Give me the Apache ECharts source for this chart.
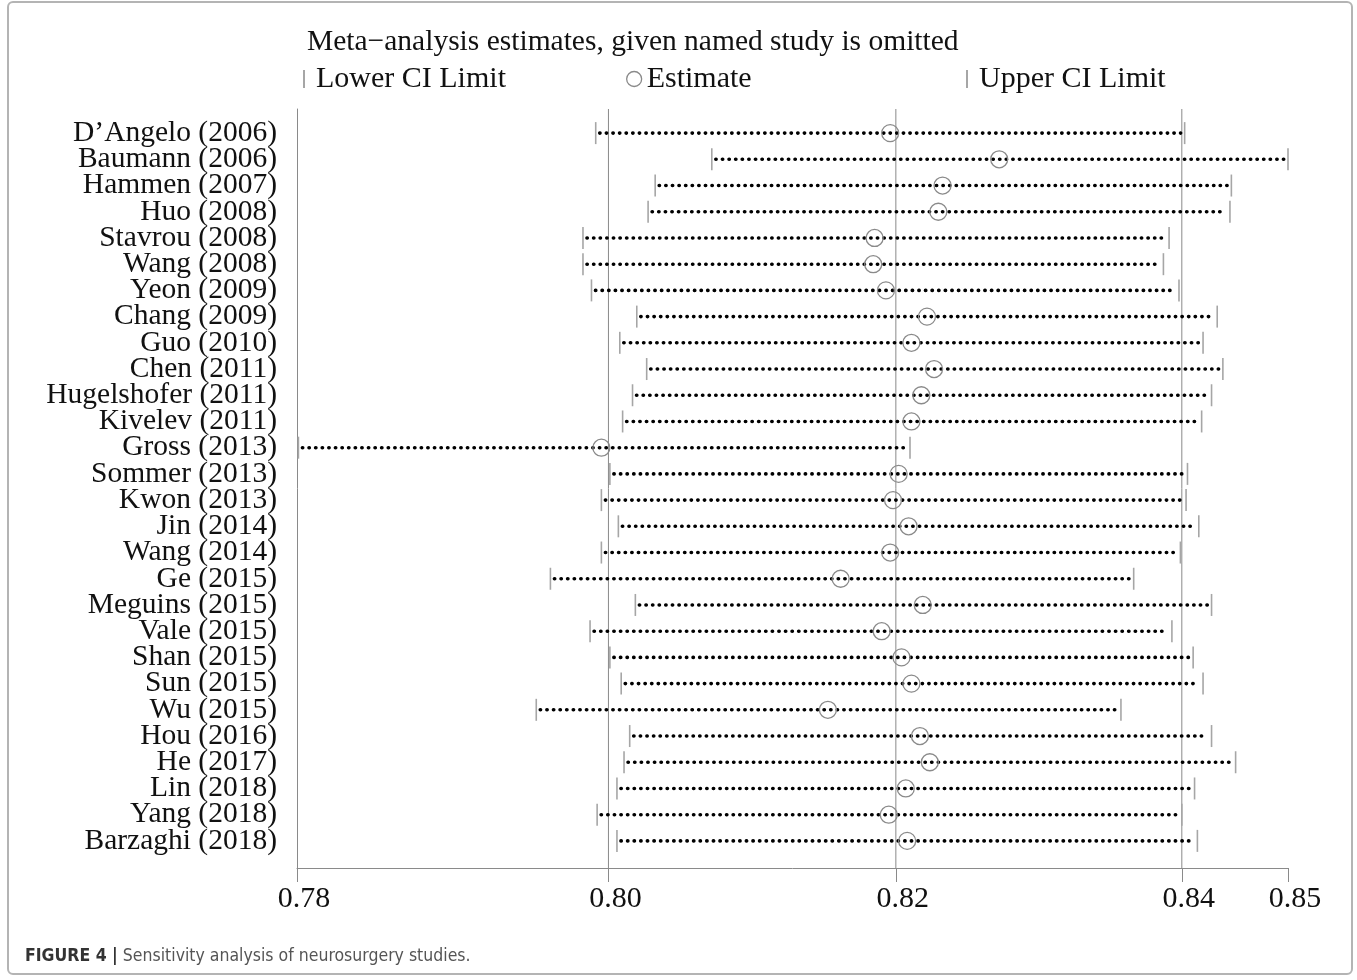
<!DOCTYPE html>
<html>
<head>
<meta charset="utf-8">
<script src="https://cdn.jsdelivr.net/npm/echarts@6/dist/echarts.min.js"></script>
<style>
  html, body { margin: 0; padding: 0; background: #fff; }
  #chart { position: absolute; left: 0; top: 0; width: 1357px; height: 980px; }
  .frame { position: absolute; left: 7px; top: 1px; width: 1342px; height: 970px;
           border: 2px solid #b4b4b4; border-radius: 6px; pointer-events: none; }
</style>
</head>
<body>
<div id="chart"></div>
<div class="frame"></div>
<script>
// studies (each row = pooled estimate with that study omitted)
const studies = [
  'D’Angelo (2006)', 'Baumann (2006)', 'Hammen (2007)', 'Huo (2008)', 'Stavrou (2008)',
  'Wang (2008)', 'Yeon (2009)', 'Chang (2009)', 'Guo (2010)', 'Chen (2011)',
  'Hugelshofer (2011)', 'Kivelev (2011)', 'Gross (2013)', 'Sommer (2013)', 'Kwon (2013)',
  'Jin (2014)', 'Wang (2014)', 'Ge (2015)', 'Meguins (2015)', 'Vale (2015)',
  'Shan (2015)', 'Sun (2015)', 'Wu (2015)', 'Hou (2016)', 'He (2017)',
  'Lin (2018)', 'Yang (2018)', 'Barzaghi (2018)'
]
const lowerCI = [
  0.8011, 0.8093, 0.8053, 0.8048, 0.8002, 0.8002, 0.8008, 0.8040, 0.8028, 0.8047,
  0.8037, 0.8030, 0.7801, 0.8021, 0.8015, 0.8027, 0.8015, 0.7979, 0.8039, 0.8007,
  0.8021, 0.8029, 0.7969, 0.8035, 0.8031, 0.8026, 0.8012, 0.8026
]
const estimate = [
  0.8219, 0.8296, 0.8256, 0.8253, 0.8208, 0.8207, 0.8216, 0.8245, 0.8234, 0.8250,
  0.8241, 0.8234, 0.8015, 0.8225, 0.8221, 0.8232, 0.8219, 0.8184, 0.8242, 0.8213,
  0.8227, 0.8234, 0.8175, 0.8240, 0.8247, 0.8230, 0.8218, 0.8231
]
const upperCI = [
  0.8427, 0.8500, 0.8460, 0.8459, 0.8416, 0.8412, 0.8423, 0.8450, 0.8440, 0.8454,
  0.8446, 0.8439, 0.8233, 0.8429, 0.8428, 0.8437, 0.8424, 0.8391, 0.8446, 0.8418,
  0.8433, 0.8440, 0.8382, 0.8446, 0.8463, 0.8434, 0.8425, 0.8436
]
// overall pooled result: lower CI, estimate, upper CI
const pooled = [0.8020, 0.8223, 0.8425]
// x axis: min, pooled values, max
const tickValues = [0.78, 0.8020, 0.8223, 0.8425, 0.85]
const tickLabels = ['0.78', '0.80', '0.82', '0.84', '0.85']

const serif = 'Liberation Serif'
const sansNarrow = 'Liberation Sans Narrow, DejaVu Sans Condensed, sans-serif'
const lineGray = '#8a8a8a'
const barGray = '#a6a6a6'

const chart = echarts.init(document.getElementById('chart'))

const legendBase = {
  orient: 'horizontal',
  top: 59,
  selectedMode: false,
  textStyle: { fontFamily: serif, fontSize: 30, color: '#111', padding: [0, 0, 0, 6] }
}

const option = {
  backgroundColor: '#fff',
  animation: false,
  title: [
    {
      text: 'Meta\u2212analysis estimates, given named study is omitted',
      left: 302,
      top: 22,
      textStyle: { fontFamily: serif, fontSize: 29.5, fontWeight: 'normal', color: '#111' }
    },
    {
      text: '{b|FIGURE 4 |} {n|Sensitivity analysis of neurosurgery studies.}',
      left: 20,
      top: 942,
      textStyle: {
        rich: {
          b: { fontFamily: sansNarrow, fontWeight: 'bold', fontSize: 17.5, color: '#333' },
          n: { fontFamily: sansNarrow, fontWeight: 'normal', fontSize: 17.5, color: '#555' }
        }
      }
    }
  ],
  legend: [
    Object.assign({}, legendBase, {
      left: 298, data: ['Lower CI Limit'], icon: 'rect', itemWidth: 2, itemHeight: 18,
      itemStyle: { color: barGray }
    }),
    Object.assign({}, legendBase, {
      left: 621, data: ['Estimate'], icon: 'circle', itemWidth: 15, itemHeight: 15,
      itemStyle: { color: 'rgba(0,0,0,0)', borderColor: lineGray, borderWidth: 1.3 },
      textStyle: Object.assign({}, legendBase.textStyle, { padding: [0, 0, 0, 0] })
    }),
    Object.assign({}, legendBase, {
      left: 961, data: ['Upper CI Limit'], icon: 'rect', itemWidth: 2, itemHeight: 18,
      itemStyle: { color: barGray }
    })
  ],
  grid: [
    // frame: axis lines, ticks, pooled reference lines
    { left: 297, right: 69, top: 109, bottom: 112 },
    // study rows
    { left: 297, right: 69, top: 120, height: 734 }
  ],
  xAxis: [
    {
      gridIndex: 0,
      type: 'value',
      min: 0.78,
      max: 0.85,
      axisLine: { show: true, lineStyle: { color: lineGray, width: 1 } },
      axisTick: { show: true, customValues: tickValues, length: 14, lineStyle: { color: lineGray } },
      axisLabel: {
        customValues: tickValues,
        formatter: v => tickLabels[tickValues.indexOf(v)],
        fontFamily: serif, fontSize: 30, color: '#111', margin: 16,
        padding: [0, 0, 0, 14]
      },
      splitLine: { show: false }
    },
    {
      gridIndex: 1,
      type: 'value',
      min: 0.78,
      max: 0.85,
      show: false
    }
  ],
  yAxis: [
    {
      gridIndex: 0,
      type: 'value',
      min: 0,
      max: 1,
      axisLine: { show: true, lineStyle: { color: lineGray, width: 1 } },
      axisTick: { show: false },
      axisLabel: { show: false },
      splitLine: { show: false }
    },
    {
      gridIndex: 1,
      type: 'category',
      inverse: true,
      data: studies,
      axisLine: { show: false },
      axisTick: { show: false },
      axisLabel: { interval: 0, fontFamily: serif, fontSize: 29.5, color: '#111', margin: 20 },
      splitLine: { show: false }
    }
  ],
  series: [
    {
      name: 'pooled',
      type: 'custom',
      xAxisIndex: 0,
      yAxisIndex: 0,
      silent: true,
      data: pooled.map(v => [v]),
      renderItem: (params, api) => {
        const p0 = api.coord([api.value(0), 0])
        const p1 = api.coord([api.value(0), 1])
        return {
          type: 'line',
          shape: { x1: p0[0], y1: p0[1], x2: p1[0], y2: p1[1] },
          style: { stroke: lineGray, lineWidth: 1 }
        }
      }
    },
    {
      name: 'Lower CI Limit',
      type: 'scatter',
      xAxisIndex: 1,
      yAxisIndex: 1,
      symbol: 'rect',
      symbolSize: [1.6, 22],
      itemStyle: { color: barGray, opacity: 1 },
      data: lowerCI.map((v, i) => [v, i]),
      z: 2
    },
    {
      name: 'Upper CI Limit',
      type: 'scatter',
      xAxisIndex: 1,
      yAxisIndex: 1,
      symbol: 'rect',
      symbolSize: [1.6, 22],
      itemStyle: { color: barGray, opacity: 1 },
      data: upperCI.map((v, i) => [v, i]),
      z: 2
    },
    {
      name: 'ci',
      type: 'custom',
      xAxisIndex: 1,
      yAxisIndex: 1,
      silent: true,
      data: lowerCI.map((v, i) => [v, upperCI[i], i]),
      encode: { x: [0, 1], y: 2 },
      renderItem: (params, api) => {
        const a = api.coord([api.value(0), api.value(2)])
        const b = api.coord([api.value(1), api.value(2)])
        return {
          type: 'line',
          shape: { x1: a[0] + 4, y1: a[1], x2: b[0] - 4, y2: b[1] },
          style: { stroke: '#000', lineWidth: 3.6, lineDash: [0.3, 6.3], lineCap: 'round' }
        }
      },
      z: 3
    },
    {
      name: 'Estimate',
      type: 'scatter',
      xAxisIndex: 1,
      yAxisIndex: 1,
      symbol: 'circle',
      symbolSize: 17,
      itemStyle: { color: 'rgba(0,0,0,0)', borderColor: lineGray, borderWidth: 1.3, opacity: 1 },
      data: estimate.map((v, i) => [v, i]),
      z: 4
    }
  ]
}

chart.setOption(option)
</script>
</body>
</html>
